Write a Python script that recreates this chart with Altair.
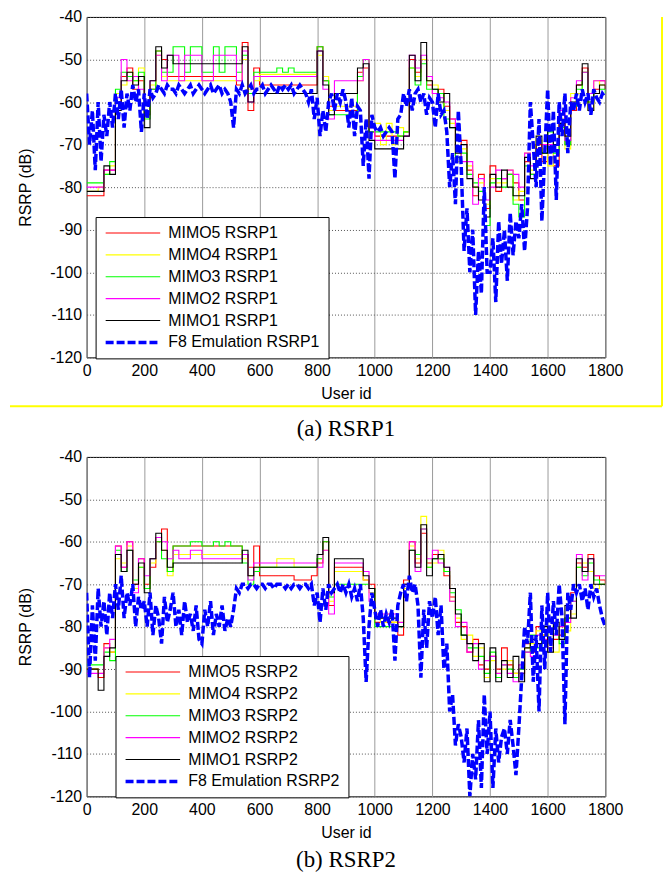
import altair as alt
import pandas as pd

# sample positions (user id)
X_MIMO = list(range(0, 1801, 20))
X_F8 = list(range(0, 1801, 10))

# ---------------- (a) RSRP1 ----------------
a_names = ["MIMO5 RSRP1", "MIMO4 RSRP1", "MIMO3 RSRP1", "MIMO2 RSRP1", "MIMO1 RSRP1", "F8 Emulation RSRP1"]

a_mimo5 = [-82, -82, -82, -76, -76, -60, -54, -52, -57, -55,
           -63, -57, -48, -50, -54, -54, -54, -54, -54, -54,
           -54, -54, -54, -54, -54, -54, -56, -46, -62, -52,
           -56, -56, -56, -56, -56, -56, -56, -56, -56, -56,
           -47, -55, -61, -62, -62, -62, -62, -53, -52, -67,
           -68, -68, -68, -68, -68, -67, -50, -53, -50, -56,
           -58, -57, -61, -64, -73, -69, -76, -82, -77, -85,
           -75, -81, -78, -77, -79, -83, -74, -77, -70, -74,
           -68, -75, -63, -70, -62, -56, -52, -60, -57, -55,
           -57]
a_mimo4 = [-81, -81, -80, -77, -75, -58, -56, -53, -55, -52,
           -62, -56, -49, -54, -55, -55, -55, -55, -55, -55,
           -55, -55, -55, -55, -55, -55, -55, -50, -57, -55,
           -53.5, -53.5, -53.5, -53.5, -53.5, -53.5, -53.5, -53.5, -53.5, -53.5,
           -49, -54, -62, -61, -61, -61, -61, -55, -50, -66,
           -65, -70, -65, -70, -66, -67, -52, -54, -50, -55,
           -56, -58, -62, -65, -74, -71, -75, -80, -79, -84,
           -78, -79, -79, -76, -83, -81, -72, -76, -69, -71,
           -75, -70, -64, -71, -58, -58, -53, -62, -55, -56,
           -56]
a_mimo3 = [-79, -79, -79, -77, -74, -57, -53, -54, -55, -53,
           -64, -57, -48, -53, -53, -47, -47, -53, -47, -47,
           -53, -53, -47, -53, -47, -47, -53, -49, -58, -53,
           -53, -53, -53, -52, -53, -52, -53, -53, -53, -53,
           -47, -55, -63, -63, -63, -63, -63, -54, -50, -67,
           -67, -67, -67, -67, -68, -67, -52, -56, -51, -57,
           -57, -58, -64, -66, -73, -72, -77, -79, -81, -89,
           -79, -78, -80, -77, -84, -87, -75, -77, -71, -72,
           -67, -72, -66, -70, -61, -57, -53, -60, -58, -57,
           -58]
a_mimo2 = [-80, -80, -80, -76, -76, -59, -50, -55, -54, -57,
           -60, -55, -49, -55, -49, -49, -55, -49, -49, -49,
           -55, -55, -49, -49, -49, -49, -55, -48, -60, -54,
           -54, -54, -54, -54, -54, -54, -54, -54, -54, -54,
           -48, -57, -64, -55, -55, -55, -55, -55, -50, -66,
           -69, -69, -69, -69, -69, -68, -49, -52, -49, -54,
           -58, -59, -60, -64, -71, -74, -74, -84, -78, -83,
           -80, -76, -78, -76, -77, -80, -72, -75, -71, -70,
           -70, -70, -62, -69, -59, -55, -53, -58, -55, -55,
           -56]
a_mimo1 = [-81, -81, -81, -75, -77, -62, -55, -53, -56, -54,
           -66, -55, -47, -52, -49, -51, -51, -51, -51, -51,
           -51, -51, -51, -51, -51, -51, -51, -47, -60, -58,
           -58, -58, -58, -58, -58, -58, -58, -58, -58, -58,
           -48, -56, -63, -58, -58, -58, -58, -52, -51, -69,
           -71, -71, -71, -71, -71, -68, -49, -55, -46, -55,
           -57, -60, -58, -66, -72, -70, -78, -80, -83, -87,
           -77, -80, -76, -80, -82, -82, -73, -78, -68, -72,
           -66, -70, -65, -68, -60, -56, -51, -62, -58, -56,
           -57]
a_f8 = [-58, -70, -62, -76, -60, -74, -63, -68, -60, -66,
        -58, -64, -57, -66, -58, -62, -56, -60, -57, -67,
        -58, -64, -57, -59, -58, -56, -57, -58, -56, -57,
        -57, -58, -56, -57, -58, -57, -56, -58, -57, -56,
        -57, -58, -57, -56, -58, -57, -56, -58, -57, -58,
        -60, -66, -57, -58, -56, -58, -57, -56, -58, -57,
        -57, -56, -58, -57, -56, -57, -58, -56, -57, -56,
        -57, -56, -58, -57, -56, -57, -58, -60, -57, -64,
        -59, -68, -62, -67, -60, -58, -62, -58, -60, -57,
        -60, -66, -59, -68, -61, -62, -75, -64, -78, -63,
        -66, -67, -66, -68, -67, -66, -67, -78, -64, -63,
        -58, -61, -57, -62, -58, -57, -60, -58, -63, -59,
        -60, -66, -58, -63, -62, -67, -80, -72, -84, -62,
        -75, -95, -85, -100, -90, -110, -95, -105, -80, -100,
        -100, -92, -107, -88, -98, -90, -102, -86, -96, -88,
        -92, -84, -95, -85, -60, -70, -80, -64, -88, -72,
        -57, -75, -62, -83, -60, -68, -58, -72, -60, -62,
        -58, -62, -57, -60, -58, -63, -57, -59, -60, -58,
        -59]

# ---------------- (b) RSRP2 ----------------
b_names = ["MIMO5 RSRP2", "MIMO4 RSRP2", "MIMO3 RSRP2", "MIMO2 RSRP2", "MIMO1 RSRP2", "F8 Emulation RSRP2"]

b_mimo5 = [-90, -90, -92, -84, -86, -61, -66, -60, -70, -64,
           -70, -66, -60, -57, -67, -61, -61, -61, -61, -61,
           -61, -61, -61, -61, -61, -61, -61, -63, -66, -61,
           -68, -68, -68, -68, -68, -68, -69, -69, -69, -68,
           -65, -60, -75, -66, -66, -66, -66, -66, -69, -70,
           -79, -79, -79, -79, -82, -69, -60, -65, -58, -65,
           -63, -64, -68, -73, -79, -80, -86, -83, -89, -90,
           -87, -90, -85, -89, -91, -91, -84, -86, -80, -82,
           -84, -83, -82, -78, -72, -65, -66, -63, -68, -69,
           -70]
b_mimo4 = [-90, -90, -91, -85, -86, -64, -65, -61, -71, -66,
           -71, -65, -59, -62, -68, -63, -63, -63, -63, -63,
           -63, -63, -63, -63, -63, -63, -63, -64, -68, -66,
           -66, -66, -66, -64, -64, -64, -66, -66, -66, -66,
           -64, -62, -74, -67, -67, -67, -67, -67, -69, -72,
           -77, -79, -77, -79, -79, -71, -61, -64, -54, -66,
           -65, -62, -67, -74, -78, -83, -82, -87, -85, -92,
           -88, -91, -90, -88, -91, -90, -85, -84, -81, -82,
           -84, -86, -80, -81, -77, -66, -65, -67, -71, -70,
           -70]
b_mimo3 = [-89, -89, -89, -86, -88, -62, -67, -62, -69, -66,
           -71, -64, -60, -64, -67, -61, -61, -61, -60, -60,
           -61, -61, -60, -61, -60, -61, -61, -65, -70, -67,
           -66, -66, -66, -66, -66, -66, -66, -66, -66, -66,
           -64, -60, -73, -70, -70, -70, -70, -70, -70, -71,
           -80, -80, -80, -80, -80, -70, -62, -63, -57, -66,
           -64, -64, -67, -72, -76, -82, -85, -85, -87, -91,
           -86, -92, -89, -90, -92, -90, -86, -82, -85, -81,
           -85, -80, -84, -78, -74, -66, -68, -65, -69, -70,
           -70]
b_mimo2 = [-91, -91, -91, -85, -83, -61, -66, -60, -72, -64,
           -68, -64, -59, -60, -64, -62, -64, -64, -62, -62,
           -64, -64, -64, -64, -64, -64, -64, -63, -69, -65,
           -65, -65, -65, -65, -65, -65, -65, -65, -65, -65,
           -66, -62, -77, -65, -65, -65, -65, -65, -67, -74,
           -77, -77, -77, -77, -79, -70, -60, -67, -57, -64,
           -62, -65, -66, -74, -80, -79, -86, -84, -90, -88,
           -87, -91, -89, -91, -93, -89, -86, -87, -82, -83,
           -85, -82, -80, -79, -74, -63, -69, -64, -68, -68,
           -68]
b_mimo1 = [-90, -90, -95, -87, -85, -63, -67, -62, -70, -65,
           -72, -64, -58, -62, -66, -65, -65, -65, -65, -65,
           -65, -65, -65, -65, -65, -65, -65, -62, -68, -66,
           -66, -66, -66, -66, -66, -66, -66, -66, -66, -66,
           -63, -59, -72, -64, -64, -64, -64, -64, -68, -71,
           -78, -78, -78, -78, -80, -70, -62, -66, -56, -68,
           -64, -63, -66, -71, -77, -82, -84, -88, -84, -93,
           -85, -93, -88, -92, -87, -93, -85, -83, -84, -80,
           -86, -79, -83, -75, -78, -64, -67, -64, -70, -70,
           -70]
b_f8 = [-72, -92, -75, -88, -71, -80, -74, -82, -72, -78,
        -70, -76, -68, -78, -72, -75, -70, -80, -73, -76,
        -74, -80, -72, -82, -75, -78, -84, -73, -79, -76,
        -72, -80, -76, -82, -74, -79, -77, -81, -75, -83,
        -84, -76, -80, -74, -82, -77, -80, -75, -81, -78,
        -80, -76, -71, -72, -70, -70, -71, -70, -70, -71,
        -70, -70, -71, -70, -70, -71, -70, -70, -70, -71,
        -70, -71, -70, -70, -71, -70, -70, -71, -70, -75,
        -72, -79, -71, -76, -70, -72, -71, -70, -72, -70,
        -72, -70, -73, -71, -74, -70, -78, -93, -80, -72,
        -76, -80, -76, -80, -77, -79, -76, -88, -75, -72,
        -70, -74, -68, -72, -70, -75, -92, -76, -85, -74,
        -78, -73, -82, -75, -90, -84, -100, -96, -108, -103,
        -106, -112, -104, -120, -110, -116, -102, -118, -96, -110,
        -100, -118, -104, -112, -106, -104, -110, -102, -108, -115,
        -104, -92, -80, -84, -72, -93, -82, -100, -75, -90,
        -72, -86, -74, -82, -70, -78, -103, -72, -76, -70,
        -72, -70, -74, -71, -76, -70, -73, -71, -75, -78,
        -80]

COLORS = ["#FF0000", "#FFFF00", "#00FF00", "#FF00FF", "#000000", "#0000FF"]
DASHES = [[1, 0]] * 5 + [[8, 3]]
WIDTHS = [1.1, 1.1, 1.1, 1.1, 1.1, 3.5]

W = 521
FONT = "Liberation Sans"
HYPHEN_LABEL = "'' + datum.value"


def make_df(names, mimo_lists, f8):
    rows = []
    for name, ys in zip(names[:5], mimo_lists):
        rows += [{"series": name, "x": x, "y": y} for x, y in zip(X_MIMO, ys)]
    rows += [{"series": names[5], "x": x, "y": y} for x, y in zip(X_F8, f8)]
    return pd.DataFrame(rows)


def panel(names, df, lx, ly, caption, height, cap_offset, frame=False):
    leg = alt.Legend(title=None, orient="none", legendX=lx, legendY=ly,
                     symbolType="stroke", symbolSize=3000, clipHeight=16,
                     rowPadding=6, labelFont=FONT, labelFontSize=16,
                     labelColor="black", labelOffset=6, labelLimit=400,
                     padding=8, strokeColor="black", fillColor="white",
                     cornerRadius=0)
    enc = dict(
        x=alt.X("x:Q", scale=alt.Scale(domain=[0, 1800], nice=False),
                axis=alt.Axis(values=list(range(0, 1801, 200)), title="User id",
                              labelExpr=HYPHEN_LABEL, labelOverlap=False, labelFlush=False,
                              labelPadding=5, titlePadding=7)),
        y=alt.Y("y:Q", scale=alt.Scale(domain=[-120, -40], nice=False),
                axis=alt.Axis(values=list(range(-120, -39, 10)), title="RSRP (dB)",
                              labelExpr=HYPHEN_LABEL, labelOverlap=False, labelFlush=False,
                              labelPadding=5, titlePadding=16)),
        color=alt.Color("series:N", scale=alt.Scale(domain=names, range=COLORS), legend=leg),
        strokeDash=alt.StrokeDash("series:N", scale=alt.Scale(domain=names, range=DASHES), legend=leg),
        strokeWidth=alt.StrokeWidth("series:N", scale=alt.Scale(type="ordinal", domain=names, range=WIDTHS), legend=leg),
    )
    layers = []
    for i, n in enumerate(names):
        interp = "step-after" if i < 5 else "linear"
        layers.append(
            alt.Chart(df).transform_filter(alt.datum.series == n)
            .mark_line(interpolate=interp, clip=True).encode(**enc)
        )
    if frame:
        one = pd.DataFrame({"k": [0]})
        layers.append(alt.Chart(one).mark_rule(color="#FFFF00", strokeWidth=2).encode(
            x=alt.value(578), y=alt.value(0), y2=alt.value(391)))
        layers.append(alt.Chart(one).mark_rule(color="#FFFF00", strokeWidth=2).encode(
            x=alt.value(-77), x2=alt.value(578), y=alt.value(391)))
    return alt.layer(*layers).properties(
        width=W, height=height,
        title=alt.TitleParams(caption, orient="bottom", anchor="middle",
                              font="Liberation Serif", fontSize=23,
                              fontWeight="normal", color="black", offset=cap_offset),
    )


df_a = make_df(a_names, [a_mimo5, a_mimo4, a_mimo3, a_mimo2, a_mimo1], a_f8)
df_b = make_df(b_names, [b_mimo5, b_mimo4, b_mimo3, b_mimo2, b_mimo1], b_f8)

pa = panel(a_names, df_a, 9, 201, "(a) RSRP1", 342, 11, frame=True)
pb = panel(b_names, df_b, 29, 200, "(b) RSRP2", 341, 9)

chart = alt.vconcat(pa, pb, spacing=6).resolve_scale(
    color="independent", strokeDash="independent", strokeWidth="independent"
).properties(padding={"top": -2, "left": 0, "right": 0, "bottom": 0}).configure_view(
    stroke="black", strokeWidth=1
).configure_axis(
    labelFont=FONT, labelFontSize=16, labelColor="black",
    titleFont=FONT, titleFontSize=16, titleFontWeight="normal", titleColor="black",
    ticks=False, domain=False, grid=True,
).configure_axisX(
    gridColor="#9a9a9a", gridWidth=1
).configure_axisY(
    gridColor="#555555", gridWidth=1, gridDash=[1, 2]
).configure_legend(
    symbolType="stroke"
)

chart.save("out.html", embed_options={"renderer": "svg", "actions": False})
